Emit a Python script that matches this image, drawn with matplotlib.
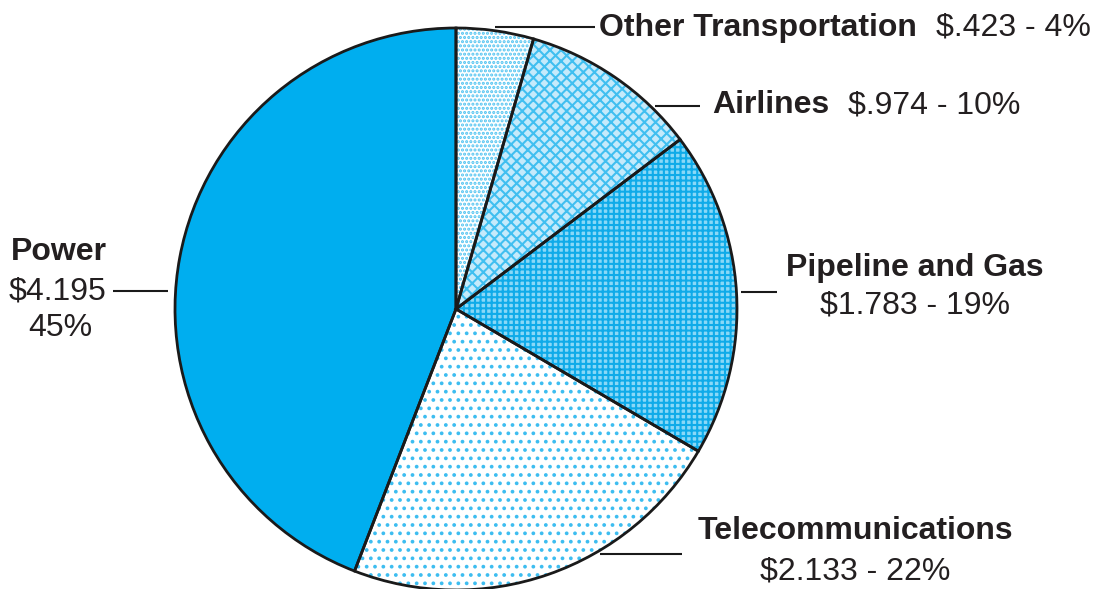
import matplotlib.pyplot as plt

plt.rcParams["font.family"] = ["Liberation Sans", "DejaVu Sans"]
plt.rcParams["hatch.linewidth"] = 1.5

# data, clockwise from 12 o'clock
sectors = ["Other Transportation", "Airlines", "Pipeline and Gas", "Telecommunications", "Power"]
values = [0.423, 0.974, 1.783, 2.133, 4.195]
percents = [4, 10, 19, 22, 45]

faces = ["white", "#c4eafb", "#8ad8f7", "white", "#00aeef"]
hatches = ["....", "xxx", "+++", "..", None]
hatch_cols = ["#4fc3f1", "#40bff0", "#0fabe9", "#3dbdf0", "#00aeef"]

W, H = 1104, 589
TXT = "#231f20"
FS = 23


def money(v):
    s = f"{v:.3f}"
    return "$" + (s[1:] if s.startswith("0") else s)


fig = plt.figure(figsize=(W / 100, H / 100), dpi=100)
ax = fig.add_axes([0, 0, 1, 1])

cx, cy, r = 456, H - 309, 281
ax.pie(values, startangle=90, counterclock=False, center=(cx, cy), radius=r,
       colors=faces, hatch=hatches,
       wedgeprops=dict(linewidth=0), frame=True)
# hatch colour comes from the edge colour, outlines drawn on top
for w, hc in zip(ax.patches, hatch_cols):
    w.set_edgecolor(hc)
ax.pie(values, startangle=90, counterclock=False, center=(cx, cy), radius=r,
       wedgeprops=dict(fill=False, edgecolor="#1a1a1a", linewidth=2.0), frame=True)
ax.set_xlim(0, W)
ax.set_ylim(0, H)
ax.set_aspect("equal")
ax.axis("off")


def y(py):
    return H - py


def lead(x0, x1, py):
    ax.plot([x0, x1], [y(py), y(py)], color="#1a1a1a", lw=1.5, solid_capstyle="butt")


# Other Transportation
lead(495, 595, 27)
ax.text(599, y(28), sectors[0], fontsize=FS, fontweight="bold", color=TXT, va="center")
ax.text(936, y(28), f"{money(values[0])} - {percents[0]}%", fontsize=FS, color=TXT, va="center")

# Airlines
lead(655, 700, 106)
ax.text(712, y(105), sectors[1], fontsize=FS, fontweight="bold", color=TXT, va="center")
ax.text(848, y(105), f"{money(values[1])} - {percents[1]}%", fontsize=FS, color=TXT, va="center")

# Pipeline and Gas
lead(741, 777, 292)
ax.text(915, y(268), sectors[2], fontsize=FS, fontweight="bold", color=TXT, va="center", ha="center")
ax.text(915, y(305), f"{money(values[2])} - {percents[2]}%", fontsize=FS, color=TXT, va="center", ha="center")

# Telecommunications
lead(600, 682, 554)
ax.text(855, y(531), sectors[3], fontsize=FS, fontweight="bold", color=TXT, va="center", ha="center")
ax.text(855, y(571), f"{money(values[3])} - {percents[3]}%", fontsize=FS, color=TXT, va="center", ha="center")

# Power
lead(113, 168, 291)
ax.text(11, y(252), sectors[4], fontsize=FS, fontweight="bold", color=TXT, va="center")
ax.text(9, y(291), money(values[4]), fontsize=FS, color=TXT, va="center")
ax.text(60, y(328), f"{percents[4]}%", fontsize=FS, color=TXT, va="center", ha="center")

fig.savefig("out.png", dpi=100)
